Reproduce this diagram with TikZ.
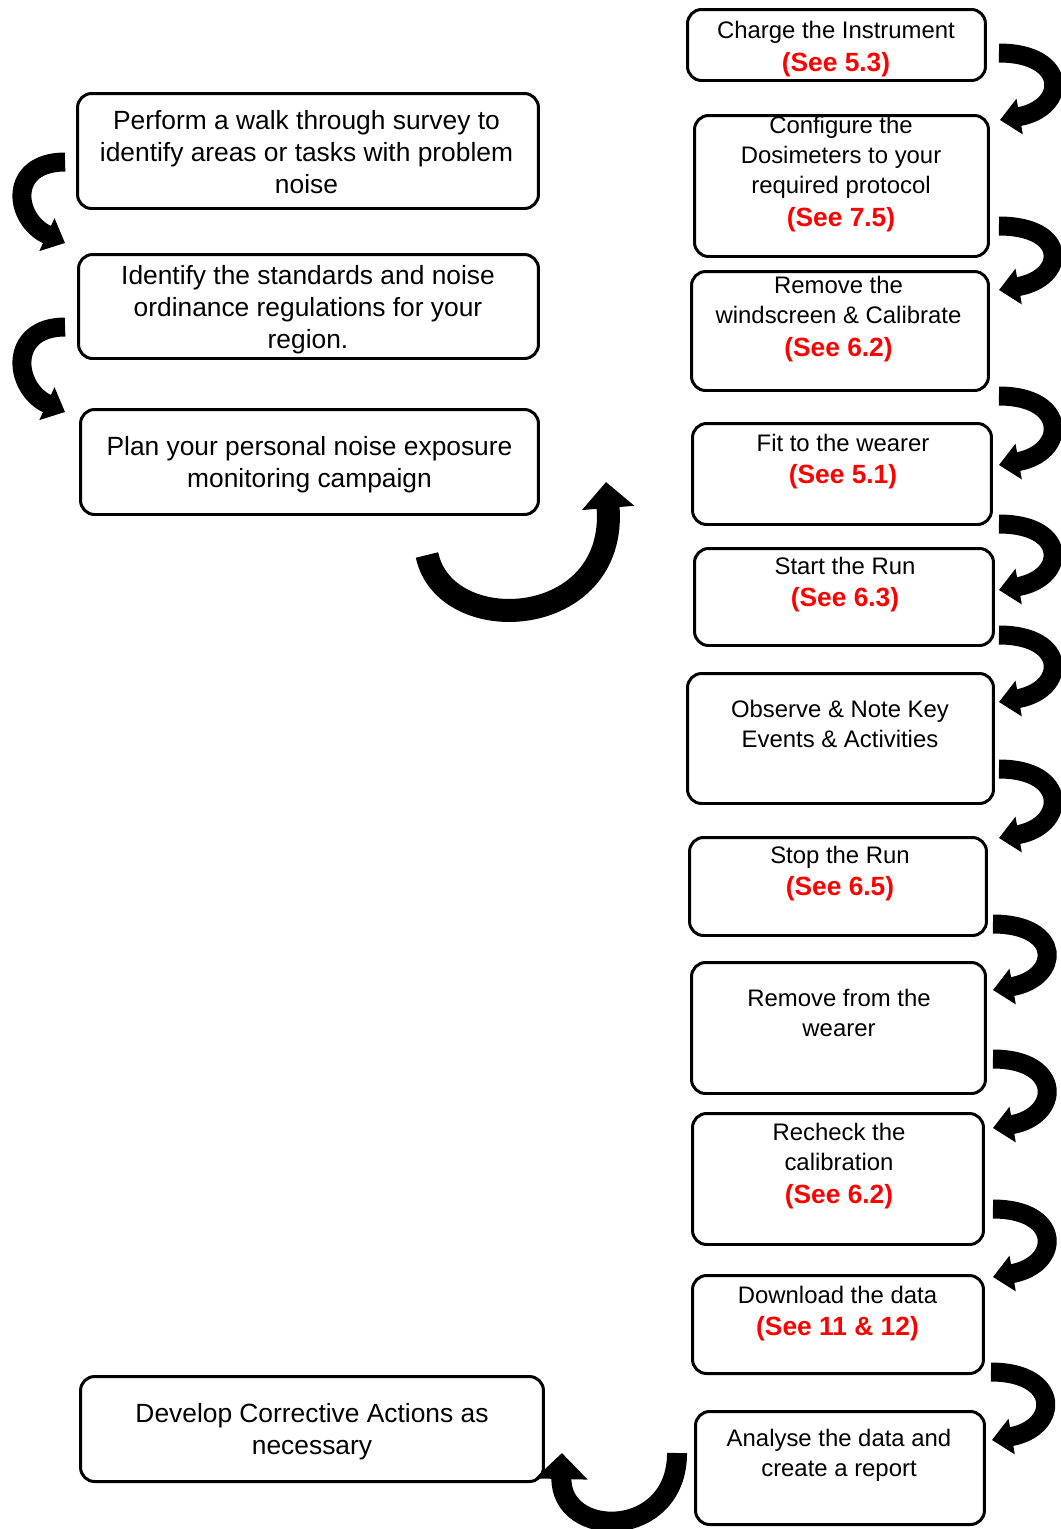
\documentclass[tikz,border=0pt]{standalone}
\usepackage{fontspec}
\setmainfont{Liberation Sans}
\usepackage{xcolor}
\usetikzlibrary{arrows.meta}
\definecolor{seeref}{RGB}{255,0,0}
\newcommand{\seesec}[1]{{\color{seeref}\bfseries\fontsize{15pt}{18pt}\selectfont (See #1)}}
\tikzstyle{stepbox}=[draw, line width=1.7pt, rounded corners=8pt, inner sep=0pt]
\tikzset{righttext/.style={align=center, inner sep=0pt, font=\fontsize{13.6pt}{17.2pt}\selectfont}}
\tikzset{lefttext/.style={align=center, inner sep=0pt, font=\fontsize{15pt}{18.2pt}\selectfont}}
\tikzstyle{turn}=[line width=0.38cm, -{Triangle[length=0.4cm,width=0.7cm]}]
\tikzstyle{swing}=[line width=0.46cm, -{Triangle[length=0.52cm,width=1.02cm]}]

\begin{document}
\begin{tikzpicture}[x=0.02cm,y=0.02cm]
  \useasboundingbox (0,0) rectangle (1061,-1529);
  %% Right column
  \draw (836.5,-45) node[stepbox,minimum width=5.96cm,minimum height=1.42cm] (R1) {};
  \draw (841.5,-186) node[stepbox,minimum width=5.88cm,minimum height=2.82cm] (R2) {};
  \draw (840,-331) node[stepbox,minimum width=5.94cm,minimum height=2.38cm] (R3) {};
  \draw (842,-474) node[stepbox,minimum width=5.98cm,minimum height=2.02cm] (R4) {};
  \draw (844,-597) node[stepbox,minimum width=5.98cm,minimum height=1.94cm] (R5) {};
  \draw (840.5,-738.5) node[stepbox,minimum width=6.12cm,minimum height=2.60cm] (R6) {};
  \draw (838,-886.5) node[stepbox,minimum width=5.94cm,minimum height=1.96cm] (R7) {};
  \draw (838.5,-1028) node[stepbox,minimum width=5.88cm,minimum height=2.62cm] (R8) {};
  \draw (838,-1179) node[stepbox,minimum width=5.82cm,minimum height=2.62cm] (R9) {};
  \draw (838,-1324.5) node[stepbox,minimum width=5.82cm,minimum height=1.96cm] (R10) {};
  \draw (840,-1468) node[stepbox,minimum width=5.78cm,minimum height=2.26cm] (R11) {};

  \draw (836,-49) node[righttext] (R1t) {Charge the Instrument\\[1.2pt]\seesec{5.3}};
  \draw (841,-174) node[righttext] (R2t) {Configure the\\Dosimeters to your\\required protocol\\[1.2pt]\seesec{7.5}};
  \draw (838.5,-319) node[righttext] (R3t) {Remove the\\windscreen \& Calibrate\\[1.2pt]\seesec{6.2}};
  \draw (843,-461.5) node[righttext] (R4t) {Fit to the wearer\\[1.2pt]\seesec{5.1}};
  \draw (845,-584.5) node[righttext] (R5t) {Start the Run\\[1.2pt]\seesec{6.3}};
  \draw (840,-724) node[righttext] (R6t) {Observe \& Note Key\\Events \& Activities};
  \draw (840,-873.5) node[righttext] (R7t) {Stop the Run\\[1.2pt]\seesec{6.5}};
  \draw (839,-1013) node[righttext] (R8t) {Remove from the\\wearer};
  \draw (839,-1166) node[righttext] (R9t) {Recheck the\\calibration\\[1.2pt]\seesec{6.2}};
  \draw (837.5,-1313.5) node[righttext] (R10t) {Download the data\\[1.2pt]\seesec{11 \& 12}};
  \draw (839,-1455) node[righttext] (R11t) {Analyse the data and\\create a report};

  %% Left column
  \draw (308,-151) node[stepbox,minimum width=9.22cm,minimum height=2.30cm] (L1) {};
  \draw (308.5,-306.5) node[stepbox,minimum width=9.20cm,minimum height=2.08cm] (L2) {};
  \draw (309.5,-462) node[stepbox,minimum width=9.16cm,minimum height=2.10cm] (L3) {};
  \draw (312,-1429) node[stepbox,minimum width=9.26cm,minimum height=2.10cm] (L4) {};

  \draw (306.5,-152) node[lefttext] (L1t) {Perform a walk through survey to\\identify areas or tasks with problem\\noise};
  \draw (308,-310) node[lefttext] (L2t) {Identify the standards and noise\\ordinance regulations for your\\region.};
  \draw (309.5,-465) node[lefttext] (L3t) {Plan your personal noise exposure\\monitoring campaign};
  \draw (312,-1432) node[lefttext] (L4t) {Develop Corrective Actions as\\necessary};

  %% Turning arrows, left
  \draw[turn] ([shift={(-11,-11)}]L1.west) .. controls +(-57,0) and +(-52,24) .. ([shift={(-12,63.5)}]L2.west);
  \draw[turn] ([shift={(-12,-20.5)}]L2.west) .. controls +(-57,0) and +(-52,24) .. ([shift={(-14,50)}]L3.west);

  %% Over to the right column
  \draw[swing] ([shift={(117.5,-39)}]L3.south) .. controls +(18,-85) and +(12,-148) .. ([shift={(-85,-8)}]R4.west);

  %% Turning arrows, right
  \draw[turn] ([shift={(12,-8)}]R1.east) .. controls +(70,0) and +(68,12) .. ([shift={(10,66)}]R2.east);
  \draw[turn] ([shift={(9,-40)}]R2.east) .. controls +(70,0) and +(68,12) .. ([shift={(9,41)}]R3.east);
  \draw[turn] ([shift={(9,-65)}]R3.east) .. controls +(70,0) and +(68,12) .. ([shift={(6,9)}]R4.east);
  \draw[turn] ([shift={(6,-50)}]R4.east) .. controls +(70,0) and +(68,12) .. ([shift={(4,7)}]R5.east);
  \draw[turn] ([shift={(4,-38)}]R5.east) .. controls +(70,0) and +(68,12) .. ([shift={(4,36.5)}]R6.east);
  \draw[turn] ([shift={(4,-30.5)}]R6.east) .. controls +(70,0) and +(68,12) .. ([shift={(11,48.5)}]R7.east);
  \draw[turn] ([shift={(5,-37.5)}]R7.east) .. controls +(70,0) and +(68,12) .. ([shift={(6,38)}]R8.east);
  \draw[turn] ([shift={(6,-31)}]R8.east) .. controls +(70,0) and +(68,12) .. ([shift={(8,51)}]R9.east);
  \draw[turn] ([shift={(8,-30)}]R9.east) .. controls +(70,0) and +(68,12) .. ([shift={(8,47.5)}]R10.east);
  \draw[turn] ([shift={(6,-47.5)}]R10.east) .. controls +(70,0) and +(68,12) .. ([shift={(6,28)}]R11.east);

  %% Back to the left column
  \draw[swing,line width=0.4cm] ([shift={(-17,15)}]R11.west) .. controls +(0,-87) and +(-2,-87) .. ([shift={(17,-24)}]L4.east);
\end{tikzpicture}
\end{document}
